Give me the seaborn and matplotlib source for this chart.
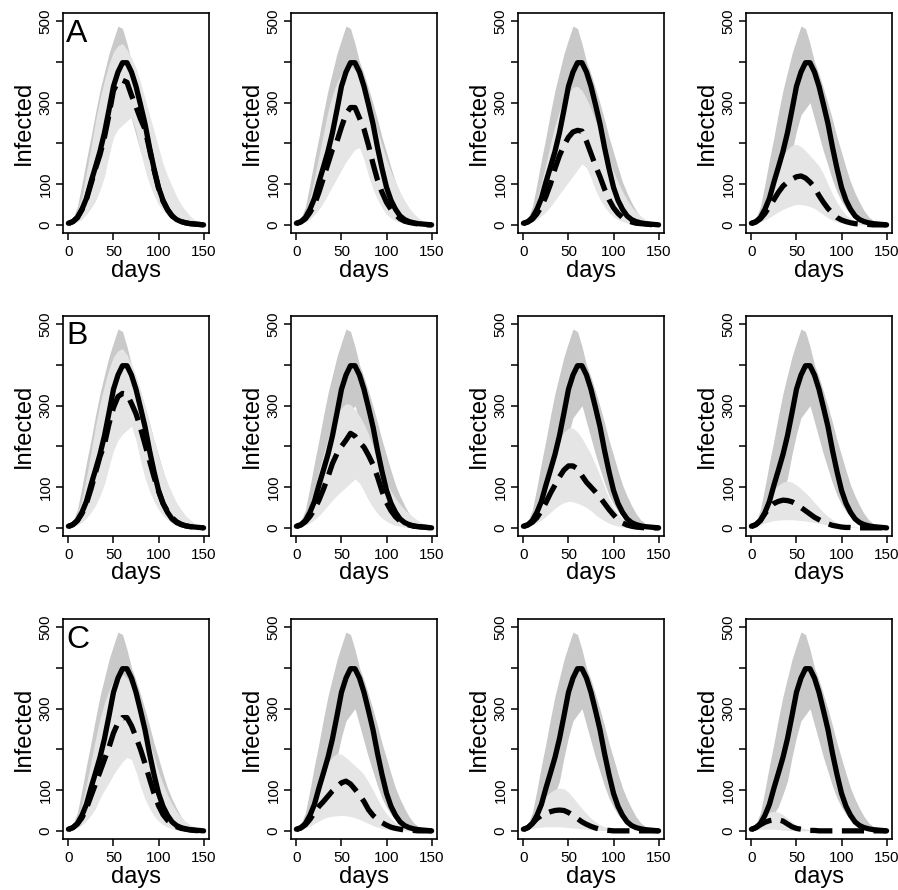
import numpy as np
import pandas as pd
import matplotlib
matplotlib.use("Agg")
import matplotlib.pyplot as plt
import seaborn as sns

sns.set_style("ticks")
plt.rcParams['font.family'] = ['Liberation Sans', 'DejaVu Sans']
plt.rcParams['text.color'] = 'black'
plt.rcParams['axes.labelcolor'] = 'black'
plt.rcParams['xtick.color'] = 'black'
plt.rcParams['ytick.color'] = 'black'

days = [0, 5, 10, 15, 20, 25, 30, 35, 40, 45, 50, 55, 60, 65, 70, 75,
        80, 85, 90, 95, 100, 105, 110, 115, 120, 125, 130, 135, 140, 145, 150]

# baseline (same in every panel)
base_mean = [4, 8, 18, 38, 65, 105, 142, 180, 226, 282, 340, 375, 398, 398, 375, 340,
             295, 248, 190, 138, 92, 60, 38, 22, 13, 8, 5, 3, 2, 1, 0]
base_lo = [2, 4, 8, 15, 28, 42, 60, 90, 122, 180, 230, 270, 285, 300, 260, 220,
           180, 145, 110, 80, 58, 40, 28, 18, 12, 7, 4, 2, 1, 0, 0]
base_hi = [5, 16, 45, 100, 160, 215, 275, 330, 375, 420, 455, 488, 482, 445, 400, 370,
           335, 298, 258, 215, 178, 140, 105, 78, 55, 35, 20, 11, 6, 3, 1]

# intervention scenarios
a1_mean = [3, 8, 18, 37, 63, 100, 138, 172, 215, 270, 330, 350, 355, 350, 318, 290,
           260, 235, 185, 135, 90, 58, 37, 22, 13, 8, 5, 3, 2, 1, 0]
a1_lo = [2, 4, 8, 15, 26, 42, 60, 85, 120, 170, 215, 235, 245, 255, 265, 230,
         180, 135, 100, 72, 50, 35, 22, 14, 8, 5, 3, 2, 1, 0, 0]
a1_hi = [5, 15, 35, 70, 130, 190, 255, 310, 355, 395, 425, 440, 445, 430, 410, 385,
         350, 310, 270, 230, 190, 150, 120, 95, 70, 50, 35, 22, 12, 6, 3]

a2_mean = [3, 7, 15, 30, 50, 80, 115, 150, 185, 205, 240, 272, 288, 288, 262, 235,
           195, 150, 110, 80, 55, 38, 25, 15, 9, 6, 4, 2, 1, 0, 0]
a2_lo = [2, 4, 8, 15, 25, 38, 55, 75, 95, 115, 135, 155, 170, 185, 190, 160,
         120, 88, 62, 42, 26, 16, 10, 6, 3, 2, 1, 0, 0, 0, 0]
a2_hi = [5, 14, 32, 65, 115, 170, 225, 280, 320, 350, 370, 385, 390, 380, 360, 335,
         300, 265, 230, 195, 160, 130, 105, 80, 60, 42, 28, 18, 10, 5, 3]

a3_mean = [3, 7, 14, 27, 45, 70, 100, 138, 170, 195, 215, 228, 232, 230, 205, 175,
           145, 118, 88, 62, 42, 28, 18, 11, 7, 4, 3, 2, 1, 0, 0]
a3_lo = [2, 4, 8, 14, 22, 32, 45, 60, 75, 90, 105, 120, 135, 150, 140, 115,
         85, 62, 45, 30, 20, 13, 8, 5, 3, 2, 1, 0, 0, 0, 0]
a3_hi = [5, 13, 30, 60, 105, 150, 200, 245, 280, 305, 325, 338, 340, 330, 310, 285,
         255, 225, 190, 160, 130, 105, 82, 62, 45, 32, 22, 14, 8, 4, 2]

a4_mean = [3, 7, 15, 28, 45, 62, 80, 95, 105, 112, 118, 120, 115, 105, 92, 72,
           55, 40, 28, 18, 12, 8, 5, 3, 2, 1, 1, 0, 0, 0, 0]
a4_lo = [2, 4, 8, 12, 18, 25, 32, 38, 43, 47, 50, 50, 48, 45, 40, 33,
         25, 17, 11, 7, 4, 2, 1, 0, 0, 0, 0, 0, 0, 0, 0]
a4_hi = [5, 12, 28, 55, 88, 120, 150, 172, 185, 195, 198, 192, 182, 170, 158, 145,
         125, 100, 75, 55, 38, 24, 15, 9, 5, 3, 2, 1, 0, 0, 0]

b1_mean = [3, 8, 18, 35, 60, 95, 135, 175, 205, 255, 295, 322, 330, 328, 305, 280,
           245, 205, 165, 125, 90, 60, 40, 25, 15, 9, 5, 3, 2, 1, 0]
b1_lo = [2, 4, 8, 14, 24, 38, 55, 78, 108, 150, 190, 215, 230, 240, 250, 215,
         165, 122, 90, 65, 45, 30, 20, 12, 7, 4, 2, 1, 0, 0, 0]
b1_hi = [5, 15, 35, 70, 125, 185, 250, 305, 350, 390, 420, 435, 440, 425, 400, 370,
         335, 295, 255, 215, 175, 140, 110, 85, 62, 45, 30, 20, 11, 6, 3]

b2_mean = [3, 7, 15, 28, 45, 68, 95, 125, 158, 182, 200, 215, 232, 225, 210, 198,
           178, 155, 125, 90, 62, 42, 27, 17, 11, 7, 4, 3, 2, 1, 0]
b2_lo = [2, 4, 7, 12, 20, 30, 42, 55, 68, 80, 90, 100, 110, 120, 110, 90,
         68, 50, 35, 24, 16, 10, 6, 4, 2, 1, 0, 0, 0, 0, 0]
b2_hi = [5, 13, 30, 58, 95, 140, 180, 220, 255, 280, 295, 305, 303, 290, 275, 255,
         230, 200, 170, 140, 112, 90, 72, 58, 45, 35, 26, 18, 11, 6, 3]

b3_mean = [3, 7, 14, 25, 42, 62, 85, 105, 125, 142, 152, 152, 145, 128, 112, 100,
           88, 75, 60, 45, 32, 20, 12, 7, 4, 2, 1, 0, 0, 0, 0]
b3_lo = [2, 4, 8, 13, 20, 28, 38, 48, 56, 62, 65, 64, 60, 56, 50, 42,
         32, 24, 17, 11, 7, 4, 2, 1, 0, 0, 0, 0, 0, 0, 0]
b3_hi = [5, 12, 28, 55, 90, 125, 160, 195, 220, 235, 245, 245, 235, 220, 200, 180,
         155, 128, 100, 72, 50, 34, 22, 14, 8, 5, 3, 2, 1, 0, 0]

b4_mean = [3, 8, 18, 35, 50, 60, 65, 68, 67, 64, 58, 50, 42, 34, 26, 20,
           14, 10, 6, 4, 2, 1, 1, 0, 0, 0, 0, 0, 0, 0, 0]
b4_lo = [2, 4, 8, 12, 15, 18, 19, 20, 20, 20, 19, 18, 17, 15, 13, 11,
         9, 7, 5, 4, 3, 2, 1, 1, 0, 0, 0, 0, 0, 0, 0]
b4_hi = [5, 15, 38, 62, 80, 95, 105, 112, 115, 112, 105, 96, 86, 75, 62, 50,
         38, 28, 20, 13, 8, 5, 3, 2, 1, 0, 0, 0, 0, 0, 0]

c1_mean = [3, 8, 17, 32, 55, 85, 115, 145, 175, 205, 240, 265, 278, 278, 258, 230,
           200, 165, 128, 92, 62, 40, 26, 16, 10, 6, 4, 2, 1, 0, 0]
c1_lo = [2, 4, 8, 15, 25, 38, 55, 80, 100, 118, 138, 155, 170, 180, 175, 145,
         108, 78, 55, 37, 24, 15, 9, 5, 3, 2, 1, 0, 0, 0, 0]
c1_hi = [5, 14, 33, 65, 115, 170, 225, 275, 315, 345, 368, 380, 385, 375, 355, 330,
         295, 260, 220, 182, 145, 115, 88, 66, 48, 34, 23, 15, 9, 5, 3]

c2_mean = [3, 7, 15, 28, 45, 60, 72, 85, 98, 108, 118, 122, 115, 102, 88, 72,
           52, 38, 28, 20, 14, 9, 6, 4, 2, 1, 1, 0, 0, 0, 0]
c2_lo = [2, 4, 8, 12, 18, 24, 30, 34, 36, 37, 38, 37, 35, 32, 28, 23,
         18, 13, 9, 6, 4, 2, 1, 0, 0, 0, 0, 0, 0, 0, 0]
c2_hi = [5, 12, 28, 55, 88, 120, 148, 168, 182, 190, 188, 180, 170, 160, 150, 138,
         120, 100, 78, 58, 42, 30, 20, 13, 8, 5, 3, 2, 1, 0, 0]

c3_mean = [3, 8, 18, 30, 38, 43, 47, 50, 51, 50, 45, 38, 30, 22, 16, 11,
           7, 4, 2, 1, 0, 0, 0, 0, 0, 0, 0, 0, 0, 0, 0]
c3_lo = [2, 4, 6, 8, 9, 10, 10, 10, 10, 9, 8, 7, 6, 5, 4, 3,
         2, 1, 1, 0, 0, 0, 0, 0, 0, 0, 0, 0, 0, 0, 0]
c3_hi = [5, 15, 35, 55, 72, 85, 95, 102, 105, 103, 95, 82, 68, 55, 42, 31,
         22, 15, 10, 6, 4, 2, 1, 0, 0, 0, 0, 0, 0, 0, 0]

c4_mean = [3, 8, 15, 21, 25, 27, 27, 24, 17, 10, 6, 4, 2, 1, 1, 0,
           0, 0, 0, 0, 0, 0, 0, 0, 0, 0, 0, 0, 0, 0, 0]
c4_lo = [2, 3, 4, 4, 4, 4, 3, 2, 1, 1, 0, 0, 0, 0, 0, 0,
         0, 0, 0, 0, 0, 0, 0, 0, 0, 0, 0, 0, 0, 0, 0]
c4_hi = [5, 14, 30, 40, 46, 48, 46, 40, 31, 22, 14, 8, 5, 3, 2, 1,
         0, 0, 0, 0, 0, 0, 0, 0, 0, 0, 0, 0, 0, 0, 0]

row_labels = ["A", "B", "C"]
x_ticks = [0, 50, 100, 150]
y_ticks = [0, 100, 200, 300, 400, 500]
y_ticklabels = ["0", "100", "", "300", "", "500"]

panels = [
    [(a1_mean, a1_lo, a1_hi), (a2_mean, a2_lo, a2_hi), (a3_mean, a3_lo, a3_hi), (a4_mean, a4_lo, a4_hi)],
    [(b1_mean, b1_lo, b1_hi), (b2_mean, b2_lo, b2_hi), (b3_mean, b3_lo, b3_hi), (b4_mean, b4_lo, b4_hi)],
    [(c1_mean, c1_lo, c1_hi), (c2_mean, c2_lo, c2_hi), (c3_mean, c3_lo, c3_hi), (c4_mean, c4_lo, c4_hi)],
]

DARK = "#c9c9c9"
LIGHT = "#e5e5e5"
LW = 3.8

W, H = 898, 890
fig = plt.figure(figsize=(W / 100, H / 100), dpi=100)
lefts = [63, 291, 518, 746]
tops = [13, 316, 619]
aw, ah = 146, 220

for r in range(3):
    for c in range(4):
        mean, lo, hi = panels[r][c]
        ax = fig.add_axes([lefts[c] / W, 1 - (tops[r] + ah) / H, aw / W, ah / H])
        ax.fill_between(days, base_lo, base_hi, color=DARK, lw=0, zorder=1)
        ax.fill_between(days, lo, hi, color=LIGHT, lw=0, zorder=2)
        sns.lineplot(x=days, y=base_mean, ax=ax, color="black", lw=LW,
                     solid_capstyle="round", solid_joinstyle="round", zorder=3)
        sns.lineplot(x=days, y=mean, ax=ax, color="black", lw=LW, zorder=4)
        ln = ax.lines[-1]
        ln.set_dashes((4.2, 1.8))
        ln.set_dash_capstyle("butt")
        ax.set_xlim(-6, 156)
        ax.set_ylim(-20, 520)
        ax.set_xticks(x_ticks)
        ax.set_xticklabels([str(v) for v in x_ticks])
        ax.set_yticks(y_ticks)
        ax.set_yticklabels(y_ticklabels, rotation=90, va="center")
        ax.tick_params(axis="both", direction="out", length=5, width=1.1,
                       labelsize=11, color="black", labelcolor="black")
        ax.tick_params(axis="x", pad=3.5)
        ax.tick_params(axis="y", pad=2.5)
        for sp in ax.spines.values():
            sp.set_visible(True)
            sp.set_linewidth(1.2)
            sp.set_color("black")
        ax.set_xlabel("days", fontsize=17, labelpad=0.5, color="black")
        ax.set_ylabel("Infected", fontsize=17, labelpad=2.5, color="black")
        if c == 0:
            ax.text(0.02, 0.975, row_labels[r], transform=ax.transAxes,
                    fontsize=23, va="top", ha="left", color="black", zorder=6)

fig.savefig("out.png", dpi=100)
